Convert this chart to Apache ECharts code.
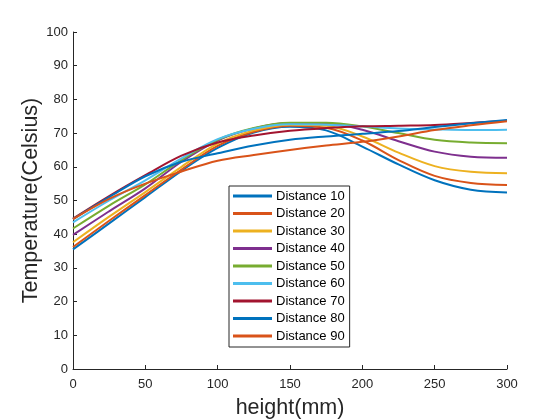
<!DOCTYPE html>
<html><head><meta charset="utf-8">
<script src="https://cdn.jsdelivr.net/npm/echarts@6/dist/echarts.min.js"></script>
<style>html,body{margin:0;padding:0;background:#fff}#c{width:560px;height:420px}</style>
</head><body><div id="c"></div>
<script>
const heights = [0, 25, 50, 75, 100, 125, 150, 175, 200, 225, 250, 275, 300];
const seriesNames = ['Distance 10','Distance 20','Distance 30','Distance 40','Distance 50','Distance 60','Distance 70','Distance 80','Distance 90'];
const d10 = [35.5, 43.2, 51.0, 58.8, 65.6, 70.2, 71.9, 70.8, 66.0, 60.7, 56.0, 53.2, 52.4];
const d20 = [36.2, 44.0, 51.6, 59.2, 66.2, 70.4, 72.2, 71.6, 67.8, 62.0, 57.3, 55.2, 54.6];
const d30 = [37.6, 45.2, 52.5, 60.0, 66.9, 70.8, 72.5, 72.2, 69.0, 64.2, 60.2, 58.5, 58.1];
const d40 = [39.8, 46.8, 53.6, 61.5, 67.8, 71.4, 73.0, 72.9, 71.0, 67.6, 64.5, 63.0, 62.7];
const d50 = [41.7, 48.5, 54.8, 62.0, 68.0, 71.5, 73.1, 73.1, 72.0, 70.0, 68.0, 67.2, 67.0];
const d60 = [43.5, 50.0, 56.0, 62.5, 68.2, 71.3, 72.6, 72.5, 72.0, 71.4, 71.1, 70.9, 71.0];
const d70 = [44.6, 51.3, 57.5, 63.3, 67.2, 69.3, 70.7, 71.5, 72.0, 72.2, 72.4, 73.0, 73.7];
const d80 = [44.5, 51.0, 57.2, 61.5, 64.0, 66.3, 68.0, 69.0, 69.8, 70.6, 71.8, 72.9, 73.9];
const d90 = [44.5, 50.5, 55.0, 58.6, 61.8, 63.5, 65.0, 66.3, 67.4, 69.0, 70.9, 72.3, 73.5];
const allValues = [d10, d20, d30, d40, d50, d60, d70, d80, d90];
const colors = ['#0072BD','#D95319','#EDB120','#7E2F8E','#77AC30','#4DBEEE','#A2142F','#0072BD','#D95319'];
const xTicks = [0, 50, 100, 150, 200, 250, 300];
const yTicks = [0, 10, 20, 30, 40, 50, 60, 70, 80, 90, 100];

const chart = echarts.init(document.getElementById('c'), null, {renderer: 'canvas'});
const font = 'Arial, "Liberation Sans", Helvetica, sans-serif';
chart.setOption({
  animation: false,
  backgroundColor: '#fff',
  color: colors,
  grid: {left: 73, right: 53, top: 32, bottom: 51, containLabel: false, outerBoundsMode: 'none'},
  legend: {
    orient: 'vertical', left: 229, top: 186,
    data: seriesNames,
    icon: 'rect', itemWidth: 39, itemHeight: 3, itemGap: 3.5,
    padding: [3, 5, 4, 4],
    borderColor: '#262626', borderWidth: 1, borderRadius: 0,
    backgroundColor: '#fff',
    textStyle: {fontFamily: font, fontSize: 13, color: '#000', lineHeight: 14, padding: [0, 0, 0, -1]}
  },
  xAxis: {
    type: 'value', min: 0, max: 300, interval: 50,
    name: 'height(mm)', nameLocation: 'middle', nameGap: 28, nameMoveOverlap: false,
    nameTextStyle: {fontFamily: font, fontSize: 21.5, color: '#262626'},
    axisLine: {show: true, lineStyle: {color: '#262626', width: 1}},
    axisTick: {show: true, inside: true, length: 4, lineStyle: {color: '#262626'}},
    axisLabel: {fontFamily: font, fontSize: 13, color: '#262626', margin: 9,
      formatter: v => xTicks.includes(v) ? String(v) : ''},
    splitLine: {show: false}
  },
  yAxis: {
    type: 'value', min: 0, max: 100, interval: 10,
    name: 'Temperature(Celsius)', nameLocation: 'middle', nameGap: 31, nameMoveOverlap: false,
    nameTextStyle: {fontFamily: font, fontSize: 21.5, color: '#262626'},
    axisLine: {show: true, lineStyle: {color: '#262626', width: 1}},
    axisTick: {show: true, inside: true, length: 4, lineStyle: {color: '#262626'}},
    axisLabel: {fontFamily: font, fontSize: 13, color: '#262626', margin: 5,
      formatter: v => yTicks.includes(v) ? String(v) : ''},
    splitLine: {show: false}
  },
  series: seriesNames.map((n, i) => ({
    name: n, type: 'line', smooth: 0.35, showSymbol: false, symbol: 'none',
    lineStyle: {width: 2, color: colors[i]},
    itemStyle: {color: colors[i]},
    data: heights.map((h, j) => [h, allValues[i][j]])
  }))
});
</script></body></html>
